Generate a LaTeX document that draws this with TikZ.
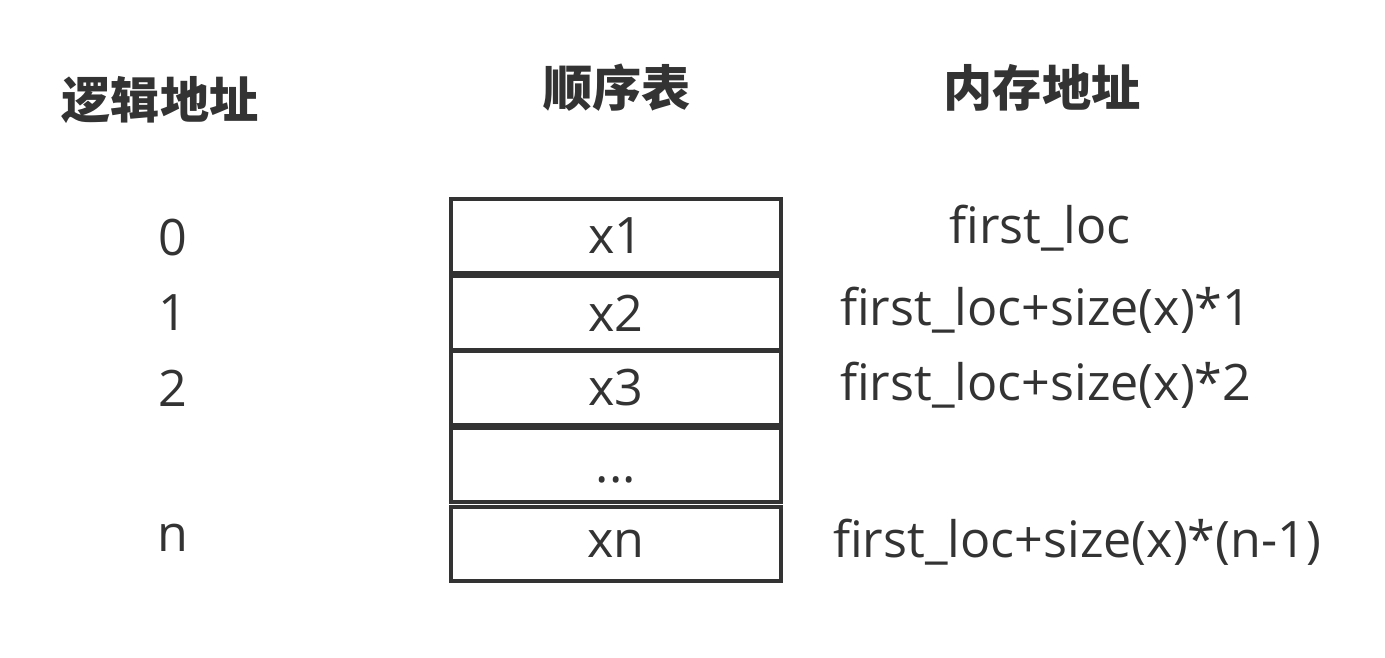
\documentclass[tikz,border=0pt]{standalone}
\usepackage{fontspec}
\setmainfont{Open Sans}
\newfontfamily\cjk{Noto Sans CJK SC}
\usepackage{tikz}
\usetikzlibrary{positioning}
\definecolor{ink}{HTML}{333333}
\tikzset{cell box/.style={draw=ink, line width=2.8pt, rectangle, minimum width=6.6cm, minimum height=1.48cm, inner sep=0pt, text=ink, font=\fontsize{28.6}{32}\selectfont},
  head text/.style={text=ink, font=\cjk\bfseries\fontsize{28}{32}\selectfont},
  addr text/.style={text=ink, font=\fontsize{28.6}{32}\selectfont}}

\begin{document}
\begin{tikzpicture}[x=0.02cm, y=-0.02cm]
\useasboundingbox (0,0) rectangle (1385,658);
% headers
\node[head text] (logic) at (160,100) {逻辑地址};
\node[head text] (table) at (617,88) {顺序表};
\node[head text] (memory) at (1042,88) {内存地址};
% sequence list cells
\node[cell box] (x1) at (616,236) {x1};
\node[cell box] (x2) at (616,313) {x2};
\node[cell box] (x3) at (616,388) {x3};
\node[cell box] (dots) at (616,465) {\raisebox{-0.7em}{...}};
\node[cell box] (xn) at (616,544) {\raisebox{-0.1em}{xn}};
% logical addresses
\node[addr text] (i0) at (173,238) {0};
\node[addr text] (i1) at (173,313) {1};
\node[addr text] (i2) at (173,388) {2};
\node[addr text] (in) at (173,538) {n};
% memory addresses
\node[addr text] (m0) at (1040,228) {first\_loc};
\node[addr text, anchor=west] (m1) at (834,310) {first\_loc+size(x)*1};
\node[addr text, anchor=west] (m2) at (834,385) {first\_loc+size(x)*2};
\node[addr text, anchor=west] (mn) at (827,542) {first\_loc+size(x)*(n-1)};
\end{tikzpicture}
\end{document}
